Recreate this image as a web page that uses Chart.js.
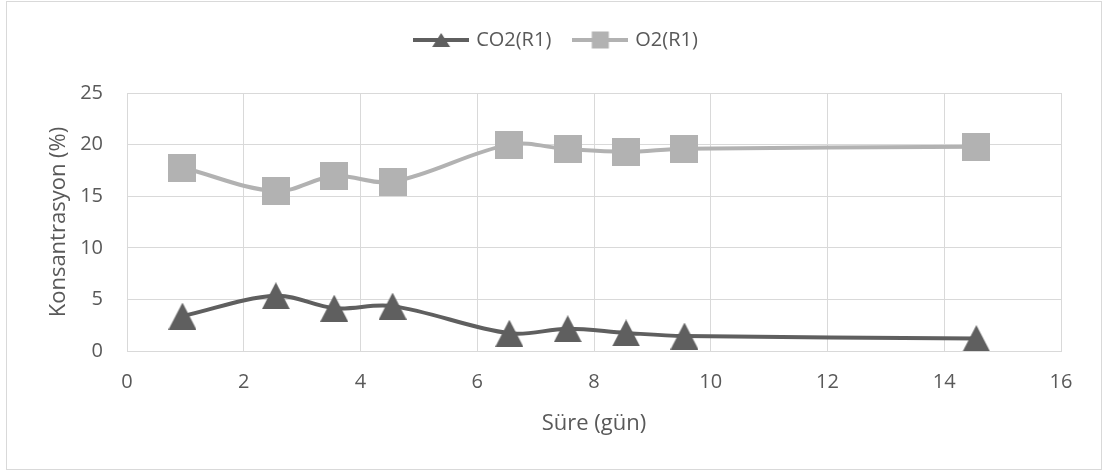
<!DOCTYPE html>
<html>
<head>
<meta charset="utf-8">
<script src="https://cdn.jsdelivr.net/npm/chart.js@4/dist/chart.umd.min.js"></script>
<style>
  html, body { margin: 0; padding: 0; background: #ffffff; }
  #wrap { position: absolute; left: 6px; top: 1px; width: 1094px; height: 467px; border: 1px solid #d9d9d9; background: #fff; }
  canvas { display: block; }
</style>
</head>
<body>
<div id="wrap"><canvas id="c" width="1094" height="467"></canvas></div>
<script>
// ---- data ----
const days = [0.95, 2.55, 3.55, 4.55, 6.55, 7.55, 8.55, 9.55, 14.55];
const co2 = [3.38, 5.35, 4.15, 4.35, 1.72, 2.15, 1.75, 1.45, 1.2];
const o2 = [17.78, 15.5, 16.95, 16.4, 20.0, 19.55, 19.3, 19.6, 19.78];
const seriesNames = ['CO2(R1)', 'O2(R1)'];
const xTicks = [0, 2, 4, 6, 8, 10, 12, 14, 16];
const yTicks = [0, 5, 10, 15, 20, 25];
const xTitle = 'Süre (gün)';
const yTitle = 'Konsantrasyon (%)';

const CO2_COLOR = '#5f5f5f';
const O2_COLOR = '#b2b2b2';
const TEXT = '#595959';
const GRID = '#d9d9d9';
const FONT = "'Open Sans', sans-serif";

function triCanvas(w, h, color) {
  const c = document.createElement('canvas');
  c.width = w; c.height = h;
  const g = c.getContext('2d');
  g.fillStyle = color;
  g.beginPath();
  g.moveTo(w / 2, 0); g.lineTo(w, h); g.lineTo(0, h); g.closePath();
  g.fill();
  return c;
}
function sqCanvas(s, color) {
  const c = document.createElement('canvas');
  c.width = s; c.height = s;
  const g = c.getContext('2d');
  g.fillStyle = color;
  g.fillRect(0, 0, s, s);
  return c;
}
function legendCanvas(kind, color) {
  const w = 56, h = 20;
  const c = document.createElement('canvas');
  c.width = w; c.height = h;
  const g = c.getContext('2d');
  g.strokeStyle = color; g.lineWidth = 4;
  g.beginPath(); g.moveTo(0, h / 2); g.lineTo(w, h / 2); g.stroke();
  g.fillStyle = color;
  if (kind === 'tri') {
    g.beginPath(); g.moveTo(w / 2, 3); g.lineTo(w / 2 + 9, 17); g.lineTo(w / 2 - 9, 17); g.closePath(); g.fill();
  } else {
    g.fillRect(w / 2 - 8.5, h / 2 - 8.5, 17, 17);
  }
  return c;
}

const triPt = triCanvas(28, 27, CO2_COLOR);
const sqPt = sqCanvas(28, O2_COLOR);
const legImgs = [legendCanvas('tri', CO2_COLOR), legendCanvas('sq', O2_COLOR)];

const legendPlugin = {
  id: 'legendTweak',
  beforeInit(chart) {
    const lg = chart.legend;
    if (lg) {
      const orig = lg.fit;
      lg.fit = function () { orig.call(this); this.height += 33; };
    }
  },
  afterLayout(chart) {
    const lg = chart.legend;
    if (lg) { lg.left += 13; lg.right += 13; }
  }
};

new Chart(document.getElementById('c'), {
  type: 'line',
  data: {
    datasets: [
      {
        label: seriesNames[0],
        data: days.map((d, i) => ({ x: d, y: co2[i] })),
        borderColor: CO2_COLOR,
        backgroundColor: CO2_COLOR,
        borderWidth: 4,
        tension: 0.35,
        pointStyle: triPt,
        pointRadius: 14,
        fill: false
      },
      {
        label: seriesNames[1],
        data: days.map((d, i) => ({ x: d, y: o2[i] })),
        borderColor: O2_COLOR,
        backgroundColor: O2_COLOR,
        borderWidth: 4,
        tension: 0.35,
        pointStyle: sqPt,
        pointRadius: 14,
        fill: false
      }
    ]
  },
  options: {
    responsive: false,
    animation: false,
    layout: { padding: { left: 20, right: 40, top: 4, bottom: 20 } },
    plugins: {
      tooltip: { enabled: false },
      legend: {
        position: 'top',
        labels: {
          usePointStyle: true,
          pointStyleWidth: 50,
          padding: 24,
          color: TEXT,
          font: { family: FONT, size: 20 },
          generateLabels(chart) {
            return chart.data.datasets.map((ds, i) => ({
              text: ds.label,
              pointStyle: legImgs[i],
              fillStyle: ds.borderColor,
              strokeStyle: ds.borderColor,
              lineWidth: 0,
              fontColor: TEXT,
              hidden: false,
              datasetIndex: i
            }));
          }
        }
      }
    },
    scales: {
      x: {
        type: 'linear',
        min: 0, max: 16,
        afterBuildTicks(scale) { scale.ticks = xTicks.map(v => ({ value: v })); },
        afterFit(scale) { scale.height = 98; },
        grid: { color: GRID, lineWidth: 1, drawTicks: false },
        border: { color: GRID, width: 1 },
        ticks: { color: TEXT, font: { family: FONT, size: 20 }, padding: 19, maxRotation: 0 },
        title: { display: true, text: xTitle, color: TEXT, font: { family: FONT, size: 22 }, padding: { top: 0, bottom: 12 } }
      },
      y: {
        min: 0, max: 25,
        afterBuildTicks(scale) { scale.ticks = yTicks.map(v => ({ value: v })); },
        afterFit(scale) { scale.width = 100; },
        grid: { color: GRID, lineWidth: 1, drawTicks: false },
        border: { color: GRID, width: 1 },
        ticks: { color: TEXT, font: { family: FONT, size: 20 }, padding: 24 },
        title: { display: true, text: yTitle, color: TEXT, font: { family: FONT, size: 22 }, padding: { top: 19, bottom: 0 } }
      }
    }
  },
  plugins: [legendPlugin]
});
</script>
</body>
</html>
